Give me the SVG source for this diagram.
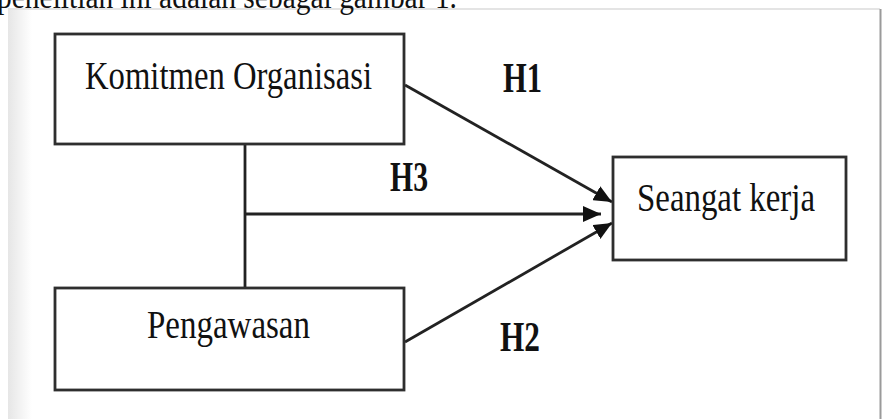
<svg xmlns="http://www.w3.org/2000/svg" width="883" height="419" viewBox="0 0 883 419">
  <defs>
    <linearGradient id="lshadow" x1="0" y1="0" x2="1" y2="0">
      <stop offset="0" stop-color="#e6e6e6"/>
      <stop offset="1" stop-color="#ffffff"/>
    </linearGradient>
    <marker id="arrow" markerUnits="userSpaceOnUse" markerWidth="20" markerHeight="16" refX="18" refY="8" orient="auto">
      <path d="M0,0 L18,8 L0,16 z" fill="#111"/>
    </marker>
  </defs>
  <style>
    .box { fill: #fff; stroke: #2e2e2e; stroke-width: 2.8; }
    .lbl { font-family: "Liberation Serif", "Times New Roman", serif; font-size: 40px; fill: #111; }
    .h { font-family: "Liberation Serif", "Times New Roman", serif; font-size: 42px; font-weight: bold; fill: #111; }
    .edge { stroke: #222; stroke-width: 2.8; fill: none; }
  </style>
  <rect x="0" y="0" width="883" height="419" fill="#fff"/>
  <!-- page frame -->
  <rect x="8" y="9" width="872" height="410" fill="#fff"/>
  <rect x="8" y="9" width="24" height="410" fill="url(#lshadow)"/>
  <line x1="8" y1="9" x2="880" y2="9" stroke="#e4e4e4" stroke-width="2"/>
  <line x1="880.5" y1="9" x2="880.5" y2="419" stroke="#9a9a9a" stroke-width="2"/>
  <!-- cut-off caption text at top -->
  <text x="-3" y="8" font-family="Liberation Serif, Times New Roman, serif" font-size="34" fill="#111" textLength="460" lengthAdjust="spacingAndGlyphs">penelitian ini adalah sebagai gambar 1.</text>

  <g id="connectors">
    <line class="edge" x1="245" y1="144" x2="245" y2="288"/>
    <line class="edge" x1="245" y1="214" x2="601" y2="214" marker-end="url(#arrow)"/>
    <line class="edge" x1="405" y1="85" x2="612" y2="202" marker-end="url(#arrow)"/>
    <line class="edge" x1="405" y1="342" x2="612" y2="223" marker-end="url(#arrow)"/>
    <text class="h" x="503" y="92" textLength="39" lengthAdjust="spacingAndGlyphs">H1</text>
    <text class="h" x="390" y="191" textLength="38" lengthAdjust="spacingAndGlyphs">H3</text>
    <text class="h" x="500" y="351" textLength="40" lengthAdjust="spacingAndGlyphs">H2</text>
  </g>

  <g id="komitmen">
    <rect class="box" x="55" y="34" width="349" height="110"/>
    <text class="lbl" x="85" y="89" textLength="287" lengthAdjust="spacingAndGlyphs">Komitmen Organisasi</text>
  </g>
  <g id="pengawasan">
    <rect class="box" x="55" y="288" width="349" height="102"/>
    <text class="lbl" x="147" y="338" textLength="163" lengthAdjust="spacingAndGlyphs">Pengawasan</text>
  </g>
  <g id="semangat">
    <rect class="box" x="613" y="157" width="233" height="103"/>
    <text class="lbl" x="637" y="211" textLength="178" lengthAdjust="spacingAndGlyphs">Seangat kerja</text>
  </g>
</svg>
